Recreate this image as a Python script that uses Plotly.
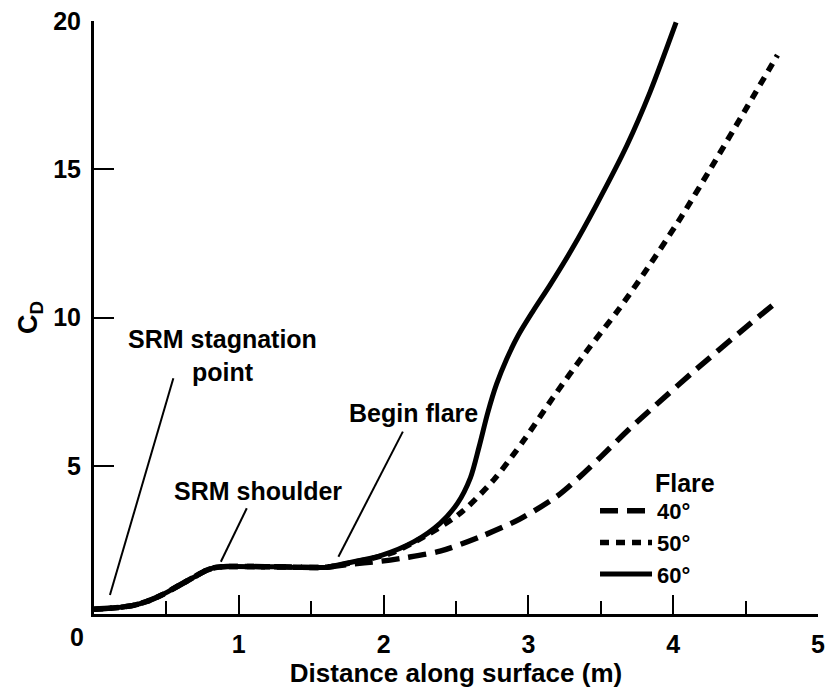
import plotly.graph_objects as go

# ---- data ----
x40 = [0.0, 0.15, 0.28, 0.38, 0.48, 0.59, 0.70, 0.77, 0.83, 0.92, 1.25, 1.61,
       1.75, 1.98, 2.15, 2.39, 2.67, 2.94, 3.20, 3.36, 3.50, 3.70, 3.88, 4.17, 4.46, 4.72]
y40 = [0.16, 0.21, 0.30, 0.45, 0.67, 0.97, 1.27, 1.46, 1.56, 1.60, 1.59, 1.58,
       1.67, 1.78, 1.90, 2.12, 2.61, 3.20, 3.98, 4.65, 5.30, 6.25, 7.05, 8.30, 9.50, 10.55]

x50 = [0.0, 0.15, 0.28, 0.38, 0.48, 0.59, 0.70, 0.77, 0.83, 0.92, 1.25, 1.61,
       1.75, 2.05, 2.28, 2.53, 2.76, 2.97, 3.17, 3.40, 3.62, 3.80, 4.05, 4.28, 4.51, 4.72]
y50 = [0.16, 0.21, 0.30, 0.45, 0.67, 0.97, 1.27, 1.46, 1.56, 1.60, 1.59, 1.58,
       1.70, 2.05, 2.61, 3.40, 4.52, 5.87, 7.30, 8.85, 10.25, 11.50, 13.35, 15.20, 17.10, 18.85]

x60 = [0.0, 0.15, 0.28, 0.38, 0.48, 0.59, 0.70, 0.77, 0.83, 0.92, 1.25, 1.61,
       1.75, 1.98, 2.21, 2.39, 2.51, 2.60, 2.66, 2.72, 2.78, 2.85, 2.93, 3.03, 3.15, 3.30,
       3.47, 3.68, 3.84, 4.02]
y60 = [0.16, 0.21, 0.30, 0.45, 0.67, 0.97, 1.27, 1.46, 1.56, 1.60, 1.59, 1.58,
       1.72, 1.97, 2.44, 3.06, 3.73, 4.60, 5.65, 6.80, 7.75, 8.60, 9.40, 10.20, 11.10, 12.30,
       13.80, 15.80, 17.60, 19.95]

series_names = ["40°", "50°", "60°"]
x_ticks = [1, 2, 3, 4, 5]
y_ticks = [5, 10, 15, 20]

# annotation texts with anchor (data coords) and leader lines (data coords)
notes = [
    ("SRM stagnation<br>point", 0.888, 8.73),
    ("SRM shoulder", 1.13, 4.15),
    ("Begin flare", 2.207, 6.78),
]
leaders = [
    (0.548, 7.95, 0.11, 0.64),
    (1.055, 3.565, 0.876, 1.764),
    (2.133, 6.15, 1.688, 1.93),
]

FONT = "Liberation Sans, Arial, Helvetica, sans-serif"

fig = go.Figure()
styles = [("18px,9px", 5.5), ("9px,7px", 5.5), ("solid", 5)]
for name, xs, ys, (dash, w) in zip(series_names, [x40, x50, x60], [y40, y50, y60], styles):
    fig.add_trace(go.Scatter(
        x=xs, y=ys, mode="lines", name=name,
        line=dict(color="black", width=w, dash=dash, shape="spline", smoothing=0.8),
    ))

for text, ax, ay in notes:
    fig.add_annotation(x=ax, y=ay, xref="x", yref="y", text=text, showarrow=False,
                       font=dict(family=FONT, size=25, color="black", weight="bold"),
                       xanchor="center", yanchor="middle", align="center")
for x0, y0, x1, y1 in leaders:
    fig.add_shape(type="line", xref="x", yref="y", x0=x0, y0=y0, x1=x1, y1=y1,
                  line=dict(color="black", width=2))

# legend header
fig.add_annotation(x=3.86, y=4.42, xref="x", yref="y", text="Flare", showarrow=False,
                   font=dict(family=FONT, size=25, color="black", weight="bold"),
                   xanchor="left", yanchor="middle")
# shared origin label
fig.add_annotation(x=0, y=0, xref="x", yref="y", text="0", showarrow=False,
                   font=dict(family=FONT, size=25, color="black", weight="bold"),
                   xanchor="center", yanchor="middle", xshift=-17, yshift=-23)

fig.update_layout(
    width=830, height=689,
    margin=dict(l=94, r=12, t=21, b=75),
    paper_bgcolor="white", plot_bgcolor="white",
    font=dict(family=FONT, size=25, color="black", weight="bold"),
    showlegend=True,
    legend=dict(x=0.692, y=0.209, xanchor="left", yanchor="top",
                bgcolor="rgba(0,0,0,0)", itemwidth=52, tracegroupgap=0,
                font=dict(family=FONT, size=22, color="black", weight="bold")),
    xaxis=dict(range=[0, 5], tickvals=x_ticks, ticks="inside", ticklen=19, tickwidth=2,
               tickcolor="black", showline=True, linecolor="black", linewidth=3,
               showgrid=False, zeroline=False, ticklabelstandoff=6, automargin=False,
               tickfont=dict(family=FONT, size=25, weight="bold"),
               minor=dict(dtick=0.5, ticks="inside", ticklen=13, tickwidth=2, tickcolor="black",
                          showgrid=False),
               title=dict(text="Distance along surface (m)", standoff=7,
                          font=dict(family=FONT, size=26, weight="bold"))),
    yaxis=dict(range=[0, 20], tickvals=y_ticks, ticks="inside", ticklen=20, tickwidth=2,
               tickcolor="black", showline=True, linecolor="black", linewidth=3,
               showgrid=False, zeroline=False, ticklabelstandoff=5, automargin=False,
               tickfont=dict(family=FONT, size=25, weight="bold"),
               title=dict(text="C<sub>D</sub>", standoff=8,
                          font=dict(family=FONT, size=27, weight="bold"))),
)

fig.write_html("out.html")
